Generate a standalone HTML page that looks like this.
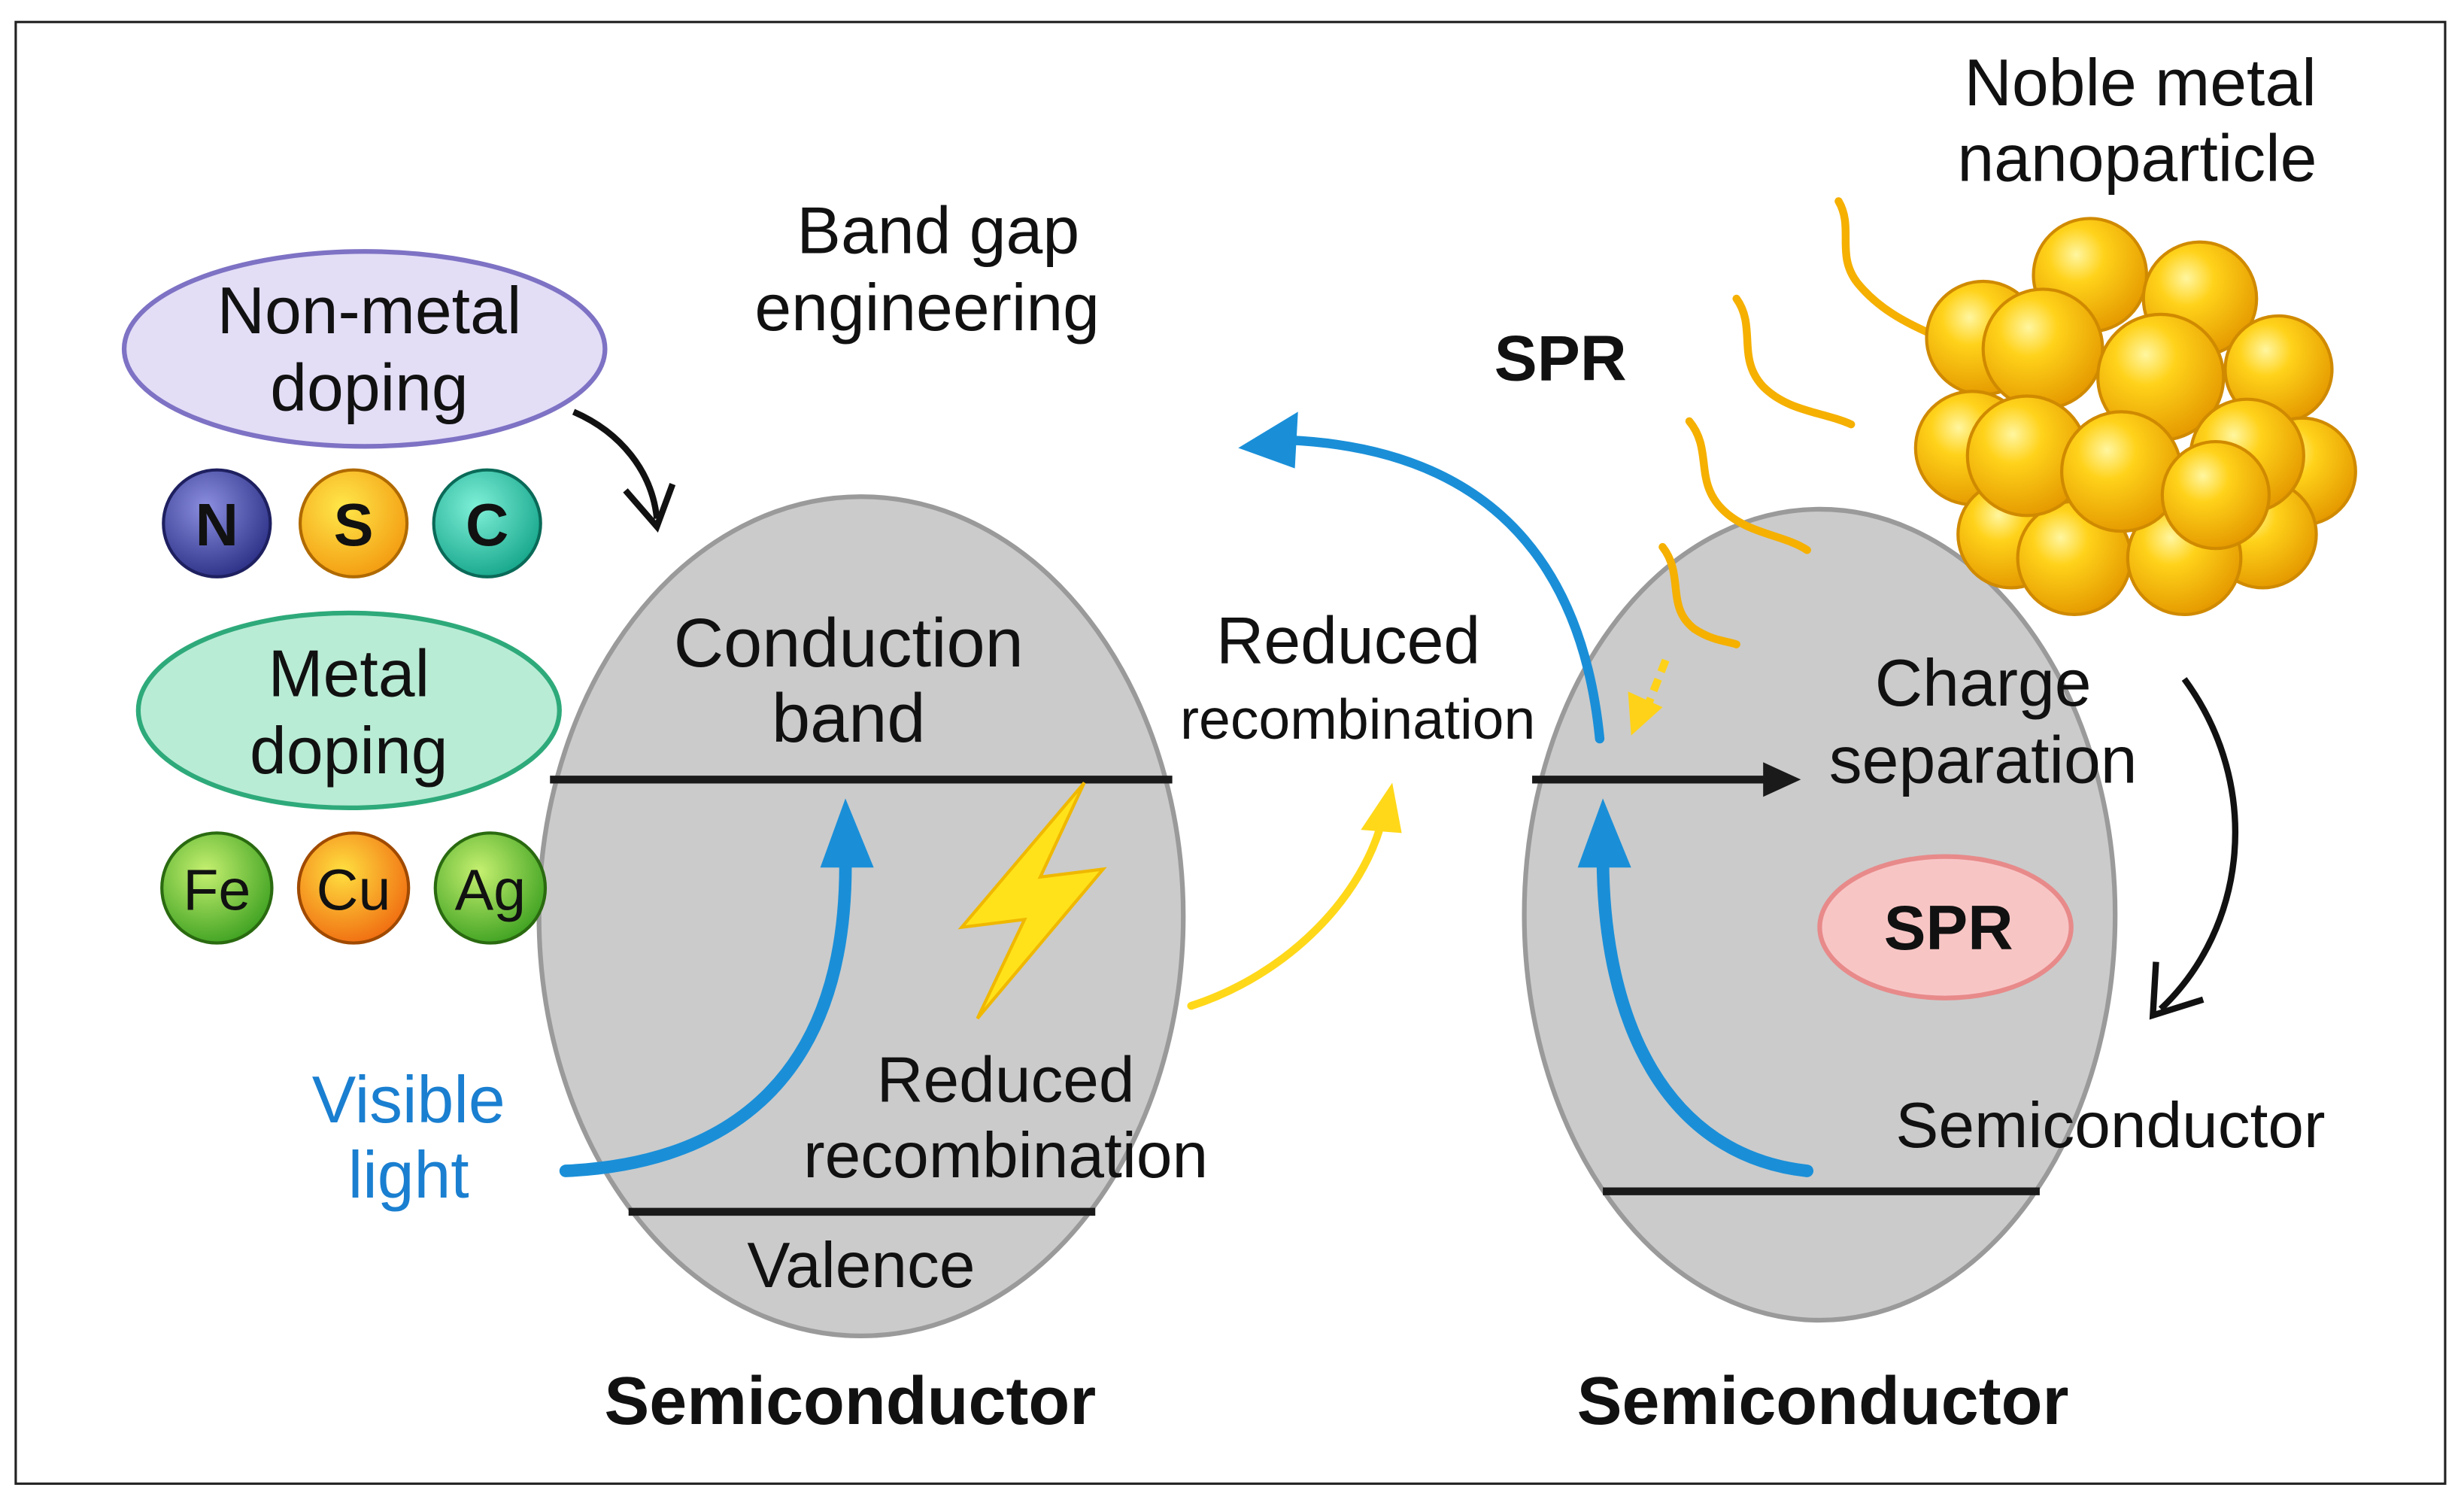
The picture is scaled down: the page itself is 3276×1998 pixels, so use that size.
<!DOCTYPE html>
<html><head><meta charset="utf-8"><style>
html,body{margin:0;padding:0;background:#fff}
svg{display:block}
text{font-family:"Liberation Sans",sans-serif;text-anchor:middle;fill:#111}
</style></head><body>
<svg width="3276" height="1998" viewBox="0 0 1568 956.3" preserveAspectRatio="none" xmlns="http://www.w3.org/2000/svg">
<defs>
<radialGradient id="gold" cx="0.38" cy="0.32" r="0.7">
<stop offset="0" stop-color="#fff6a0"/><stop offset="0.35" stop-color="#ffd21a"/><stop offset="1" stop-color="#e59a00"/>
</radialGradient>
<radialGradient id="gN" cx="0.4" cy="0.35" r="0.7"><stop offset="0" stop-color="#8c8fe0"/><stop offset="1" stop-color="#2a2f85"/></radialGradient>
<radialGradient id="gS" cx="0.4" cy="0.35" r="0.7"><stop offset="0" stop-color="#ffe84a"/><stop offset="1" stop-color="#f39a10"/></radialGradient>
<radialGradient id="gC" cx="0.4" cy="0.35" r="0.7"><stop offset="0" stop-color="#7ff0d8"/><stop offset="1" stop-color="#14a58a"/></radialGradient>
<radialGradient id="gG" cx="0.4" cy="0.35" r="0.7"><stop offset="0" stop-color="#c6f070"/><stop offset="1" stop-color="#3ca020"/></radialGradient>
<radialGradient id="gO" cx="0.4" cy="0.35" r="0.7"><stop offset="0" stop-color="#ffe040"/><stop offset="1" stop-color="#f06a10"/></radialGradient>
</defs>
<rect x="10" y="14" width="1546" height="930" fill="#fff" stroke="#222" stroke-width="1.5"/>

<!-- left semiconductor -->
<ellipse cx="548" cy="583" rx="205" ry="267" fill="#cbcbcb" stroke="#9a9a9a" stroke-width="3"/>
<line x1="350" y1="496" x2="746" y2="496" stroke="#1a1a1a" stroke-width="5"/>
<line x1="400" y1="771" x2="697" y2="771" stroke="#1a1a1a" stroke-width="5"/>
<text x="540" y="424" font-size="44">Conduction</text>
<text x="540" y="472" font-size="44">band</text>
<text x="548" y="819" font-size="41">Valence</text>
<text x="640" y="701" font-size="41">Reduced</text>
<text x="640" y="749" font-size="41">recombination</text>
<text x="541" y="906" font-size="43" font-weight="bold">Semiconductor</text>
<text x="260" y="714" font-size="42" style="fill:#1a7fd0">Visible</text>
<text x="260" y="762" font-size="42" style="fill:#1a7fd0">light</text>
<polygon points="690,498 612,590 652,585 622,648 702,553 662,558" fill="#ffe21a" stroke="#f0b800" stroke-width="2"/>
<path d="M360,745 C470,740 540,680 538,545" fill="none" stroke="#1a8fd8" stroke-width="8" stroke-linecap="round"/>
<polygon points="538,508 522,552 556,552" fill="#1a8fd8"/>
<path d="M758,640 C820,620 868,570 880,520" fill="none" stroke="#ffd81a" stroke-width="5" stroke-linecap="round"/>
<polygon points="886,498 866,528 892,530" fill="#ffd81a"/>

<text x="597" y="161" font-size="42">Band gap</text>
<text x="590" y="210" font-size="42">engineering</text>

<!-- doping -->
<ellipse cx="232" cy="222" rx="153" ry="62" fill="#e3ddf6" stroke="#7d72c4" stroke-width="3"/>
<text x="235" y="212" font-size="42">Non-metal</text>
<text x="235" y="261" font-size="42">doping</text>
<path d="M365,262 C395,275 415,300 418,330" fill="none" stroke="#111" stroke-width="4"/>
<polyline points="398,312 418,335 428,308" fill="none" stroke="#111" stroke-width="4"/>
<circle cx="138" cy="333" r="34" fill="url(#gN)" stroke="#1e2060" stroke-width="2"/>
<circle cx="225" cy="333" r="34" fill="url(#gS)" stroke="#b06a00" stroke-width="2"/>
<circle cx="310" cy="333" r="34" fill="url(#gC)" stroke="#0a6a58" stroke-width="2"/>
<text x="138" y="347" font-size="38" font-weight="bold">N</text>
<text x="225" y="347" font-size="38" font-weight="bold">S</text>
<text x="310" y="347" font-size="38" font-weight="bold">C</text>
<ellipse cx="222" cy="452" rx="134" ry="62" fill="#b9ecd5" stroke="#2eaa7a" stroke-width="3"/>
<text x="222" y="443" font-size="42">Metal</text>
<text x="222" y="492" font-size="42">doping</text>
<circle cx="138" cy="565" r="35" fill="url(#gG)" stroke="#2a6a10" stroke-width="2"/>
<circle cx="225" cy="565" r="35" fill="url(#gO)" stroke="#a04a00" stroke-width="2"/>
<circle cx="312" cy="565" r="35" fill="url(#gG)" stroke="#2a6a10" stroke-width="2"/>
<text x="138" y="579" font-size="37">Fe</text>
<text x="225" y="579" font-size="37">Cu</text>
<text x="312" y="579" font-size="37">Ag</text>

<!-- right semiconductor -->
<ellipse cx="1158" cy="582" rx="188" ry="258" fill="#cbcbcb" stroke="#9a9a9a" stroke-width="3"/>
<line x1="975" y1="496" x2="1128" y2="496" stroke="#1a1a1a" stroke-width="5"/>
<polygon points="1146,496 1122,485 1122,507" fill="#1a1a1a"/>
<line x1="1020" y1="758" x2="1298" y2="758" stroke="#1a1a1a" stroke-width="5"/>
<path d="M1150,745 C1060,735 1020,650 1020,545" fill="none" stroke="#1a8fd8" stroke-width="8" stroke-linecap="round"/>
<polygon points="1020,508 1004,552 1038,552" fill="#1a8fd8"/>
<path d="M1018,470 C1005,340 930,285 820,280" fill="none" stroke="#1a8fd8" stroke-width="6" stroke-linecap="round"/>
<polygon points="788,285 826,262 824,298" fill="#1a8fd8"/>
<text x="858" y="422" font-size="42">Reduced</text>
<text x="864" y="470" font-size="36">recombination</text>
<text x="993" y="242" font-size="41" font-weight="bold">SPR</text>
<text x="1262" y="449" font-size="42">Charge</text>
<text x="1262" y="498" font-size="42">separation</text>
<ellipse cx="1238" cy="590" rx="80" ry="45" fill="#f8c5c5" stroke="#e88a8a" stroke-width="3"/>
<text x="1240" y="604" font-size="40" font-weight="bold">SPR</text>
<text x="1343" y="730" font-size="41">Semiconductor</text>
<text x="1160" y="906" font-size="43" font-weight="bold">Semiconductor</text>
<text x="1362" y="67" font-size="42">Noble metal</text>
<text x="1360" y="115" font-size="42">nanoparticle</text>

<g fill="none" stroke="#f5b000" stroke-width="5" stroke-linecap="round">
<path d="M1170,128 C1180,145 1168,162 1182,180 C1195,196 1212,205 1228,212"/>
<path d="M1105,190 C1118,208 1105,228 1122,246 C1138,262 1160,262 1178,270"/>
<path d="M1075,268 C1090,286 1078,306 1096,324 C1112,340 1135,340 1150,350"/>
<path d="M1058,348 C1072,366 1060,386 1078,400 C1090,408 1100,408 1105,410"/>
</g>
<path d="M1060,420 L1045,458" stroke="#ffd21a" stroke-width="5" stroke-dasharray="8,5" fill="none"/>
<polygon points="1038,468 1036,440 1058,450" fill="#ffd21a"/>

<g stroke="#d08a00" stroke-width="2" fill="url(#gold)">
<circle cx="1262" cy="215" r="36"/><circle cx="1330" cy="175" r="36"/><circle cx="1400" cy="190" r="36"/>
<circle cx="1450" cy="235" r="34"/><circle cx="1255" cy="285" r="36"/><circle cx="1465" cy="300" r="34"/>
<circle cx="1280" cy="340" r="34"/><circle cx="1440" cy="340" r="34"/><circle cx="1320" cy="355" r="36"/>
<circle cx="1390" cy="355" r="36"/><circle cx="1300" cy="222" r="38"/><circle cx="1375" cy="240" r="40"/>
<circle cx="1430" cy="290" r="36"/><circle cx="1290" cy="290" r="38"/><circle cx="1350" cy="300" r="38"/>
<circle cx="1410" cy="315" r="34"/>
</g>

<path d="M1390,432 C1440,500 1430,590 1375,642" fill="none" stroke="#111" stroke-width="4"/>
<polyline points="1372,612 1370,646 1402,636" fill="none" stroke="#111" stroke-width="4"/>
</svg>
</body></html>
